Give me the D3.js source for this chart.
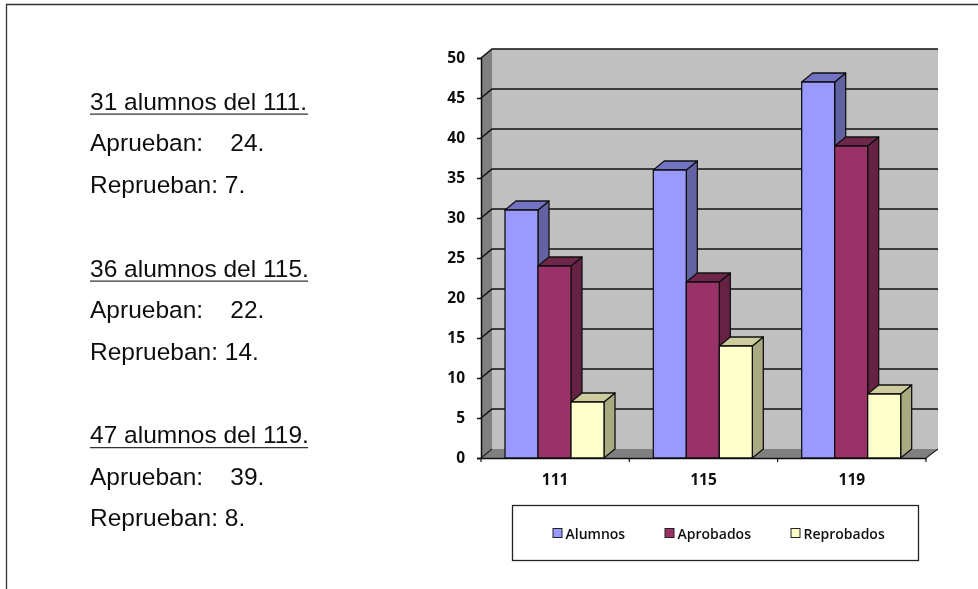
<!DOCTYPE html>
<html>
<head>
<meta charset="utf-8">
<script src="https://cdn.jsdelivr.net/npm/d3@7"></script>
<style>
  body { margin: 0; background: #fff; }
  svg { display: block; }
  .note { font-family: "Liberation Sans", Arial, sans-serif; font-size: 24.5px; fill: #111; white-space: pre; }
  .lab { font-family: "Open Sans", sans-serif; font-weight: 700; fill: #111; }
</style>
</head>
<body>
<div id="chart-area"></div>
<script>
// values
const categories = ["111", "115", "119"]
const seriesNames = ["Alumnos", "Aprobados", "Reprobados"]
const alumnos = [31, 36, 47]
const aprobados = [24, 22, 39]
const reprobados = [7, 14, 8]
const yTicks = [0, 5, 10, 15, 20, 25, 30, 35, 40, 45, 50]

const noteHeads = ["31 alumnos del 111.", "36 alumnos del 115.", "47 alumnos del 119."]
const noteApr = ["Aprueban:    24.", "Aprueban:    22.", "Aprueban:    39."]
const noteRep = ["Reprueban: 7.", "Reprueban: 14.", "Reprueban: 8."]

const fronts = ["#9999ff", "#993366", "#ffffcc"]
const tops = ["#7373c4", "#6e2549", "#cccc9c"]
const sides = ["#6262a3", "#662243", "#a9a982"]

const root = d3.select("#chart-area").append("svg")
  .attr("width", 978)
  .attr("height", 589)

// the reference is a soft screenshot
root.append("filter").attr("id", "soft")
  .attr("x", 0).attr("y", 0).attr("width", 1).attr("height", 1)
  .attr("filterUnits", "objectBoundingBox")
  .append("feGaussianBlur").attr("stdDeviation", 0.45)

const svg = root.append("g").attr("filter", "url(#soft)")
svg.append("rect").attr("width", 978).attr("height", 589).attr("fill", "#fff")

// page frame, only top and left are visible
svg.append("path")
  .attr("d", "M6.5,589V4.5H978")
  .attr("fill", "none")
  .attr("stroke", "#333")
  .attr("stroke-width", 1.3)

// left text block
const noteY = [109.5, 276.5, 443]
noteHeads.forEach((h, i) => {
  svg.append("text").attr("class", "note").attr("x", 90).attr("y", noteY[i]).text(h)
  svg.append("line")
    .attr("x1", 90).attr("x2", 308)
    .attr("y1", noteY[i] + 4.7).attr("y2", noteY[i] + 4.7)
    .attr("stroke", "#333").attr("stroke-width", 1.3)
  svg.append("text").attr("class", "note").attr("x", 90).attr("y", noteY[i] + 41.5).text(noteApr[i])
  svg.append("text").attr("class", "note").attr("x", 90).attr("y", noteY[i] + 83).text(noteRep[i])
})

// chart
const depthX = 11
const depthY = 9
const x = d3.scaleBand().domain(categories).range([481, 926])
const y = d3.scaleLinear().domain([0, 50]).range([458, 58])
const inner = d3.scaleBand().domain(seriesNames).range([24, 123])
const base = y(0)

const poly = (pts, fill) => svg.append("polygon")
  .attr("points", pts.map(p => p.join(",")).join(" "))
  .attr("fill", fill)

const xL = x.range()[0]
const xR = x.range()[1]

// back wall, side wall, floor
poly([[xL + depthX, y(50) - depthY], [xR + depthX + 1, y(50) - depthY], [xR + depthX + 1, base - depthY], [xL + depthX, base - depthY]], "#c0c0c0")
poly([[xL, y(50)], [xL + depthX, y(50) - depthY], [xL + depthX, base - depthY], [xL, base]], "#808080")
poly([[xL, base], [xL + depthX, base - depthY], [xR + depthX + 1, base - depthY], [xR, base]], "#808080")

// grid lines run over the side wall and the back wall
svg.append("g").selectAll("path")
  .data(yTicks.filter(t => t > 0))
  .enter().append("path")
  .attr("d", d => `M${xL},${y(d)}L${xL + depthX},${y(d) - depthY}H${xR + depthX + 1}`)
  .attr("fill", "none")
  .attr("stroke", "#111")
  .attr("stroke-width", 1.5)

// floor edges
svg.append("path")
  .attr("d", `M${xL},${base}L${xL + depthX},${base - depthY}M${xR},${base}L${xR + depthX + 1},${base - depthY}`)
  .attr("fill", "none").attr("stroke", "#222").attr("stroke-width", 1.1)

// axes
const yAxis = svg.append("g")
  .attr("transform", `translate(${xL},0)`)
  .call(d3.axisLeft(y).tickValues(yTicks).tickSize(4).tickPadding(12))
const xAxis = svg.append("g")
  .attr("transform", `translate(0,${base})`)
  .call(d3.axisBottom(x).tickSize(0).tickPadding(16))

const xEdges = d3.range(categories.length + 1).map(i => xL + i * x.step())
svg.append("g").selectAll("line")
  .data(xEdges)
  .enter().append("line")
  .attr("x1", d => d).attr("x2", d => d)
  .attr("y1", base).attr("y2", base + 4)
  .attr("stroke", "#111").attr("stroke-width", 1.2)

yAxis.selectAll("path, line").attr("stroke", "#111").attr("stroke-width", 1.5)
xAxis.selectAll("path").attr("stroke", "#111").attr("stroke-width", 1.5)
yAxis.selectAll("text").attr("class", "lab").style("font-size", "15.5px")
xAxis.selectAll("text").attr("class", "lab").style("font-size", "15.5px")
yAxis.attr("font-family", null).attr("font-size", null)
xAxis.attr("font-family", null).attr("font-size", null)

// bars
const seriesValues = [alumnos, aprobados, reprobados]
categories.forEach((c, ci) => {
  seriesNames.forEach((s, si) => {
    const v = seriesValues[si][ci]
    const x0 = x(c) + inner(s)
    const x1 = x0 + inner.bandwidth()
    const yT = y(v)
    const g = svg.append("g").attr("stroke", "#111").attr("stroke-width", 1.3).attr("stroke-linejoin", "round")
    g.append("polygon")
      .attr("points", [[x1, yT], [x1 + depthX, yT - depthY], [x1 + depthX, base - depthY], [x1, base]].join(" "))
      .attr("fill", sides[si])
    g.append("polygon")
      .attr("points", [[x0, yT], [x0 + depthX, yT - depthY], [x1 + depthX, yT - depthY], [x1, yT]].join(" "))
      .attr("fill", tops[si])
    g.append("rect")
      .attr("x", x0).attr("y", yT)
      .attr("width", inner.bandwidth()).attr("height", base - yT)
      .attr("fill", fronts[si])
  })
})

// legend
svg.append("rect")
  .attr("x", 512.5).attr("y", 505.5)
  .attr("width", 406).attr("height", 55)
  .attr("fill", "#fff").attr("stroke", "#222").attr("stroke-width", 1.3)

const legendX = d3.scaleOrdinal().domain(seriesNames).range([553, 665, 791])
seriesNames.forEach((s, i) => {
  svg.append("rect")
    .attr("x", legendX(s)).attr("y", 528.5)
    .attr("width", 9).attr("height", 9)
    .attr("fill", fronts[i]).attr("stroke", "#222").attr("stroke-width", 1)
  svg.append("text").attr("class", "lab")
    .attr("x", legendX(s) + 12.5).attr("y", 538.5)
    .style("font-size", "14px").style("font-weight", 600)
    .text(s)
})
</script>
</body>
</html>
